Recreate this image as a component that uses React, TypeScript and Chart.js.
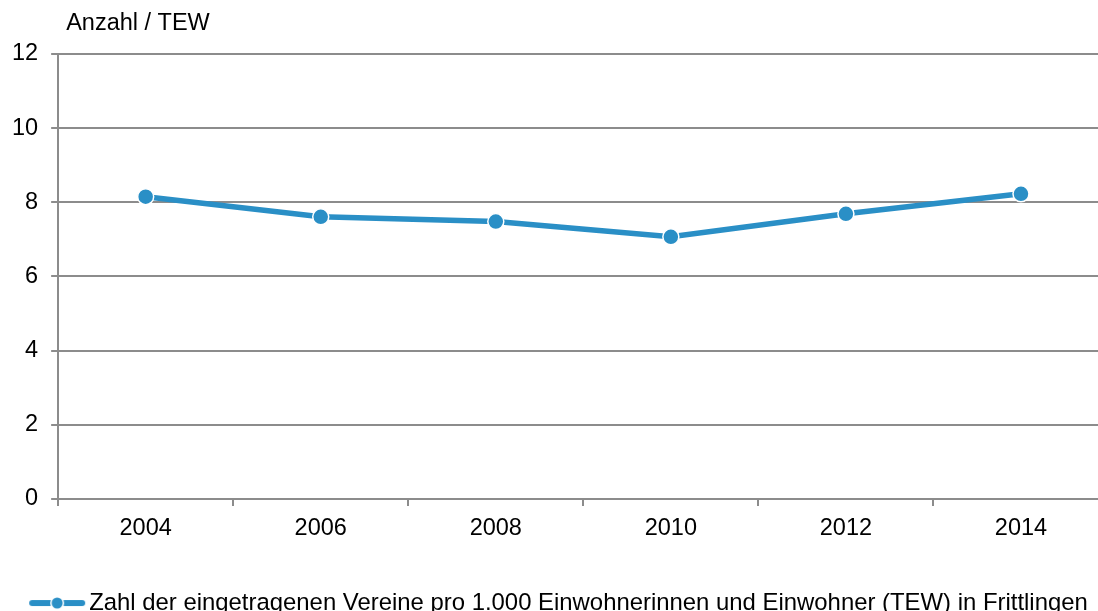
import React, { useEffect, useRef } from 'react';
import { Chart, registerables } from 'chart.js';

Chart.register(...registerables);

const years = ['2004', '2006', '2008', '2010', '2012', '2014'];
const vereineProTEW = [8.15, 7.61, 7.48, 7.07, 7.69, 8.23];
const seriesLabel =
  'Zahl der eingetragenen Vereine pro 1.000 Einwohnerinnen und Einwohner (TEW) in Frittlingen';
const yTitle = 'Anzahl / TEW';
const yMin = 0;
const yMax = 12;
const yStep = 2;

const BLUE = '#2A8FC6';
const GRID = '#8C8C8C';
const FONT = "'Liberation Sans', Arial, Helvetica, sans-serif";
const FS = 23.5;
const LEGEND_FS = 23.9;
const CW = 1118;
const CH = 625;

function makeLegendMarker(): HTMLCanvasElement {
  const c = document.createElement('canvas');
  c.width = 76;
  c.height = 16;
  const ctx = c.getContext('2d')!;
  ctx.strokeStyle = BLUE;
  ctx.lineWidth = 6;
  ctx.lineCap = 'round';
  ctx.beginPath();
  ctx.moveTo(21, 8);
  ctx.lineTo(71, 8);
  ctx.stroke();
  ctx.beginPath();
  ctx.arc(46, 8, 7, 0, Math.PI * 2);
  ctx.fillStyle = '#fff';
  ctx.fill();
  ctx.beginPath();
  ctx.arc(46, 8, 5.5, 0, Math.PI * 2);
  ctx.fillStyle = BLUE;
  ctx.fill();
  return c;
}

const yTitlePlugin = {
  id: 'yTitlePlugin',
  afterDraw(chart: any) {
    const { ctx, chartArea } = chart;
    ctx.save();
    ctx.font = `${FS}px ${FONT}`;
    ctx.fillStyle = '#000';
    ctx.textAlign = 'left';
    ctx.textBaseline = 'middle';
    ctx.fillText(yTitle, chartArea.left + 8, chartArea.top - 30);
    ctx.restore();
  },
};

export default function App() {
  const canvasRef = useRef<HTMLCanvasElement | null>(null);

  useEffect(() => {
    if (!canvasRef.current) return;
    const marker = makeLegendMarker();
    const chart = new Chart(canvasRef.current, {
      type: 'line',
      data: {
        labels: years,
        datasets: [
          {
            label: seriesLabel,
            data: vereineProTEW,
            borderColor: BLUE,
            backgroundColor: BLUE,
            borderWidth: 5.5,
            pointRadius: 8,
            pointHoverRadius: 8,
            pointBorderWidth: 1.5,
            pointBorderColor: '#fff',
            pointBackgroundColor: BLUE,
            tension: 0,
            fill: false,
          },
        ],
      },
      options: {
        responsive: false,
        animation: false,
        events: [],
        layout: { padding: { top: 54, left: -1, right: 8, bottom: 0 } },
        font: { family: FONT, size: FS },
        color: '#000',
        plugins: {
          tooltip: { enabled: false },
          title: { display: false },
          legend: {
            position: 'bottom',
            labels: {
              usePointStyle: true,
              pointStyleWidth: 56,
              padding: 39,
              color: '#000',
              font: { family: FONT, size: LEGEND_FS },
              generateLabels: (ch: any) =>
                ch.data.datasets.map((ds: any, i: number) => ({
                  text: ds.label,
                  pointStyle: marker,
                  datasetIndex: i,
                  hidden: false,
                  fillStyle: BLUE,
                  strokeStyle: BLUE,
                  lineWidth: 0,
                  fontColor: '#000',
                })),
            },
          },
        },
        scales: {
          x: {
            offset: true,
            grid: {
              offset: true,
              drawOnChartArea: false,
              drawTicks: true,
              tickLength: 7,
              color: GRID,
              lineWidth: 2,
            },
            border: { color: GRID, width: 2 },
            ticks: {
              padding: 9,
              color: '#000',
              font: { family: FONT, size: FS },
              maxRotation: 0,
            },
          },
          y: {
            min: yMin,
            max: yMax,
            grid: {
              color: GRID,
              lineWidth: 2,
              tickLength: 7,
            },
            border: { color: GRID, width: 2 },
            ticks: {
              stepSize: yStep,
              padding: 13,
              color: '#000',
              font: { family: FONT, size: FS },
            },
          },
        },
      },
      plugins: [yTitlePlugin],
    });
    return () => chart.destroy();
  }, []);

  return (
    <div
      style={{
        position: 'fixed',
        left: 0,
        top: 0,
        width: 1098,
        height: 611,
        overflow: 'hidden',
        background: '#fff',
      }}
    >
      <canvas ref={canvasRef} width={CW} height={CH} style={{ display: 'block' }} />
    </div>
  );
}
